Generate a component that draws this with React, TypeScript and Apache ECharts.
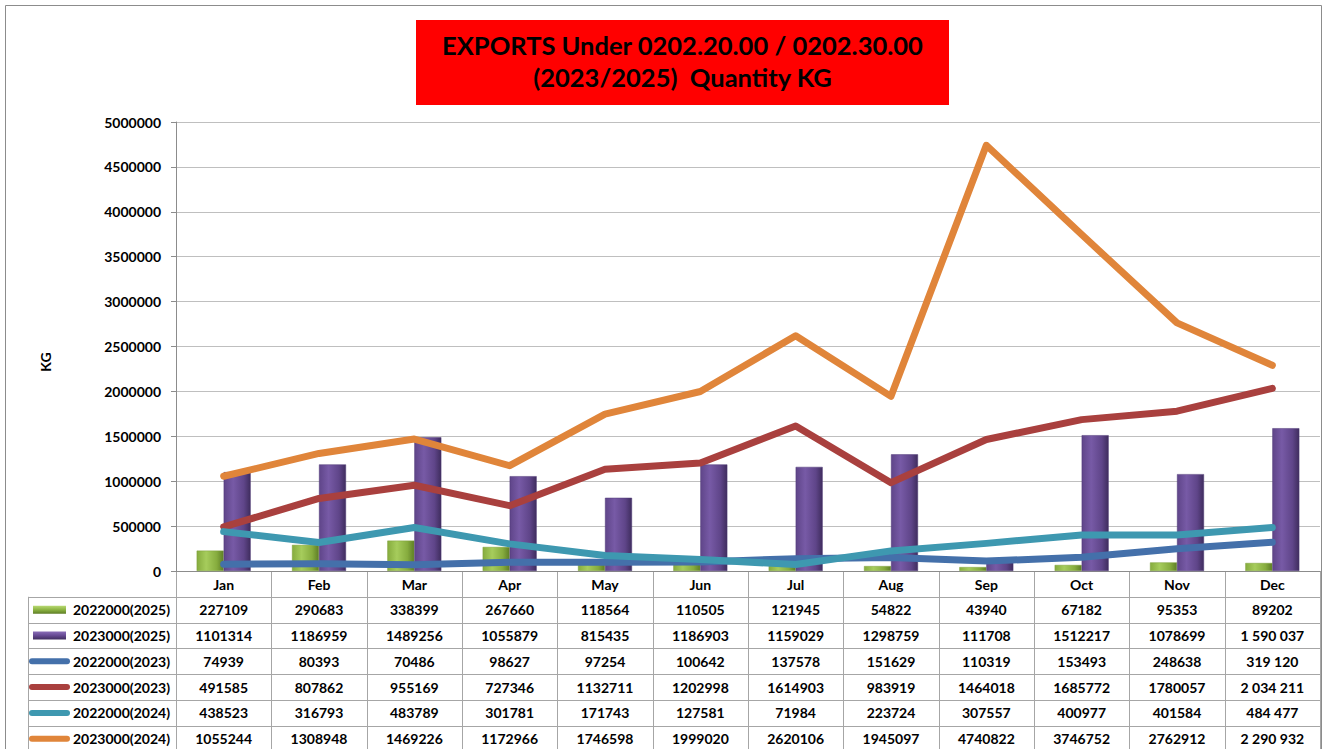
import React, { useEffect, useRef } from "react";
import * as echarts from "echarts";

const months = ["Jan", "Feb", "Mar", "Apr", "May", "Jun", "Jul", "Aug", "Sep", "Oct", "Nov", "Dec"];
const yTicks = [0, 500000, 1000000, 1500000, 2000000, 2500000, 3000000, 3500000, 4000000, 4500000, 5000000];

const g2022_2025 = [227109, 290683, 338399, 267660, 118564, 110505, 121945, 54822, 43940, 67182, 95353, 89202];
const p2023_2025 = [1101314, 1186959, 1489256, 1055879, 815435, 1186903, 1159029, 1298759, 111708, 1512217, 1078699, 1590037];
const b2022_2023 = [74939, 80393, 70486, 98627, 97254, 100642, 137578, 151629, 110319, 153493, 248638, 319120];
const r2023_2023 = [491585, 807862, 955169, 727346, 1132711, 1202998, 1614903, 983919, 1464018, 1685772, 1780057, 2034211];
const t2022_2024 = [438523, 316793, 483789, 301781, 171743, 127581, 71984, 223724, 307557, 400977, 401584, 484477];
const o2023_2024 = [1055244, 1308948, 1469226, 1172966, 1746598, 1999020, 2620106, 1945097, 4740822, 3746752, 2762912, 2290932];

const seriesNames = ["2022000(2025)", "2023000(2025)", "2022000(2023)", "2023000(2023)", "2022000(2024)", "2023000(2024)"];
const seriesData = [g2022_2025, p2023_2025, b2022_2023, r2023_2023, t2022_2024, o2023_2024];
const seriesKinds = ["bar", "bar", "line", "line", "line", "line"];
const seriesColors = ["#8DB443", "#664A93", "#4470AA", "#A9403E", "#3E98B0", "#E0853A"];

const titleLines = ["EXPORTS Under 0202.20.00 / 0202.30.00", "(2023/2025)  Quantity KG"];

const FONT = "Lato, 'Open Sans', 'DejaVu Sans', sans-serif";

// layout
const W = 1327;
const H = 749;
const PL = 176;
const PR = 1320;
const PT = 122;
const PB = 571;
const TAB_LEFT = 28;
const ROW_H = 25.8;

function fmtCell(v: number, row: number, col: number): string {
  if (col === 11 && row > 0) {
    return String(v).replace(/\B(?=(\d{3})+(?!\d))/g, " ");
  }
  return String(v);
}

export default function App() {
  const ref = useRef<HTMLDivElement>(null);
  useEffect(() => {
    document.body.style.margin = "0";
    const chart = echarts.init(ref.current!, null, { renderer: "svg" });
    const colW = (PR - PL) / months.length;

    const barGrad = (dark: string, mid: string, light: string) =>
      new echarts.graphic.LinearGradient(0, 0, 1, 0, [
        { offset: 0, color: mid },
        { offset: 0.35, color: light },
        { offset: 0.75, color: mid },
        { offset: 1, color: dark },
      ]);

    const series: any[] = seriesNames.map((name, i) => {
      if (seriesKinds[i] === "bar") {
        const grad =
          i === 0
            ? barGrad("#5E7E26", "#86AC3E", "#A6CC5C")
            : barGrad("#3F2D5E", "#5F4589", "#775AA6");
        return {
          name,
          type: "bar",
          data: seriesData[i],
          barWidth: 27,
          barGap: "0%",
          itemStyle: { color: grad, borderColor: i === 0 ? "#7C9E38" : "#4F3876", borderWidth: 0.5 },
          z: 2,
        };
      }
      return {
        name,
        type: "line",
        data: seriesData[i],
        symbol: "none",
        lineStyle: { color: seriesColors[i], width: 7, cap: "round", join: "round" },
        itemStyle: { color: seriesColors[i] },
        z: 3 + i,
      };
    });

    const graphics: any[] = [];
    // outer border
    graphics.push({
      type: "rect",
      shape: { x: 5.5, y: 5.5, width: 1316, height: 760 },
      style: { fill: "none", stroke: "#8c8c8c", lineWidth: 1 },
      silent: true,
    });
    // title
    graphics.push({
      type: "rect",
      shape: { x: 416, y: 20, width: 533, height: 85 },
      style: { fill: "#FF0000" },
    });
    titleLines.forEach((t, i) => {
      graphics.push({
        type: "text",
        x: 682.5,
        y: 45 + i * 32,
        style: {
          text: t,
          font: `bold 25.5px ${FONT}`,
          fill: "#000",
          textAlign: "center",
          textVerticalAlign: "middle",
        },
      });
    });
    // y axis name
    graphics.push({
      type: "text",
      x: 45,
      y: 362,
      rotation: Math.PI / 2,
      style: {
        text: "KG",
        font: `bold 14px ${FONT}`,
        fill: "#000",
        textAlign: "center",
        textVerticalAlign: "middle",
      },
    });

    // table lines
    const lineStyle = { stroke: "#a6a6a6", lineWidth: 1 };
    const rowsTop = PB + ROW_H; // first data row top
    const tableBottom = rowsTop + ROW_H * seriesNames.length;
    for (let c = 0; c <= months.length; c++) {
      const x = Math.round(PL + c * colW) + 0.5;
      graphics.push({ type: "line", shape: { x1: x, y1: PB, x2: x, y2: tableBottom }, style: lineStyle, silent: true });
    }
    graphics.push({
      type: "line",
      shape: { x1: TAB_LEFT + 0.5, y1: rowsTop, x2: TAB_LEFT + 0.5, y2: tableBottom },
      style: lineStyle,
      silent: true,
    });
    for (let r = 0; r <= seriesNames.length; r++) {
      const y = Math.round(rowsTop + r * ROW_H) + 0.5;
      graphics.push({ type: "line", shape: { x1: TAB_LEFT, y1: y, x2: PR, y2: y }, style: lineStyle, silent: true });
    }
    // table contents
    seriesNames.forEach((name, r) => {
      const cy = rowsTop + r * ROW_H + ROW_H / 2;
      if (seriesKinds[r] === "bar") {
        graphics.push({
          type: "rect",
          shape: { x: 33, y: cy - 4, width: 33, height: 8 },
          style: {
            fill: new echarts.graphic.LinearGradient(0, 0, 0, 1, [
              { offset: 0, color: r === 0 ? "#B9DA73" : "#8A6DB8" },
              { offset: 0.5, color: seriesColors[r] },
              { offset: 1, color: r === 0 ? "#5E7E26" : "#3F2D5E" },
            ]),
          },
        });
      } else {
        graphics.push({
          type: "line",
          shape: { x1: 32, y1: cy, x2: 67, y2: cy },
          style: { stroke: seriesColors[r], lineWidth: 6, lineCap: "round" },
        });
      }
      graphics.push({
        type: "text",
        x: 170,
        y: cy,
        style: {
          text: name,
          font: `bold 14px ${FONT}`,
          fill: "#000",
          textAlign: "right",
          textVerticalAlign: "middle",
        },
      });
      seriesData[r].forEach((v, c) => {
        graphics.push({
          type: "text",
          x: PL + (c + 0.5) * colW,
          y: cy,
          style: {
            text: fmtCell(v, r, c),
            font: `bold 14px ${FONT}`,
            fill: "#000",
            textAlign: "center",
            textVerticalAlign: "middle",
          },
        });
      });
    });

    chart.setOption({
      animation: false,
      backgroundColor: "#ffffff",
      grid: { left: PL, right: W - PR, top: PT, bottom: H - PB, containLabel: false },
      xAxis: {
        type: "category",
        data: months,
        axisLine: { lineStyle: { color: "#8c8c8c" } },
        axisTick: { show: false },
        axisLabel: { color: "#000", fontFamily: FONT, fontWeight: "bold", fontSize: 14, margin: 6 },
      },
      yAxis: {
        type: "value",
        min: yTicks[0],
        max: yTicks[yTicks.length - 1],
        interval: yTicks[1] - yTicks[0],
        axisLine: { show: true, lineStyle: { color: "#8c8c8c" } },
        axisTick: { show: true, length: 5, lineStyle: { color: "#8c8c8c" } },
        splitLine: { lineStyle: { color: "#bfbfbf" } },
        axisLabel: {
          color: "#000",
          fontFamily: FONT,
          fontWeight: "bold",
          fontSize: 14,
          margin: 15,
          formatter: (v: number) => String(v),
        },
      },
      series,
      graphic: { elements: graphics },
    });
    return () => chart.dispose();
  }, []);
  return <div ref={ref} style={{ width: W, height: H, position: "fixed", left: 0, top: 0 }} />;
}
